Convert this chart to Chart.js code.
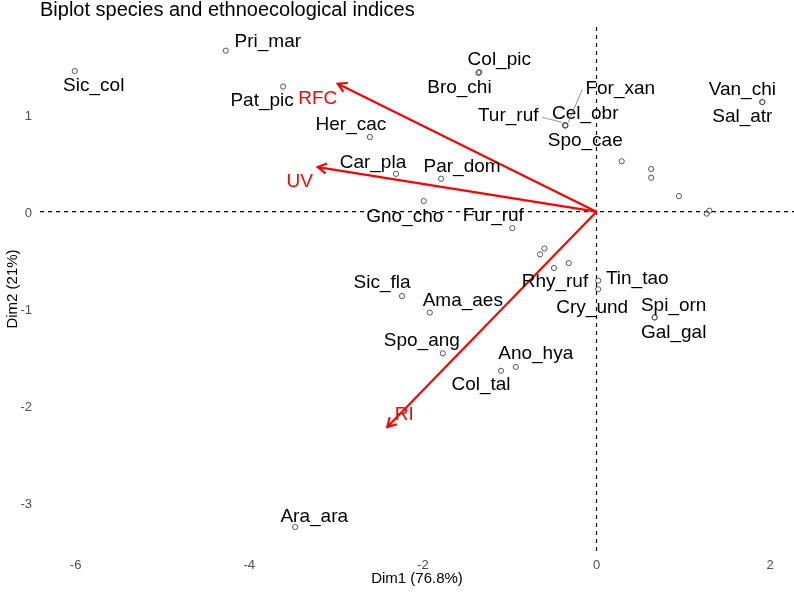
<!DOCTYPE html>
<html>
<head>
<meta charset="utf-8">
<script src="https://cdn.jsdelivr.net/npm/chart.js@4.4.0/dist/chart.umd.min.js"></script>
<style>
    html, body { margin: 0; padding: 0; background: #fff; }
</style>
</head>
<body>
<canvas id="biplot" width="794" height="594"></canvas>
<script>
/* Species scores on the first two dimensions (empty name = label dropped in the original) */
const species = [
    "Sic_col", "Pri_mar", "Pat_pic", "Her_cac", "Car_pla", "Col_pic", "Bro_chi", "Par_dom",
    "Gno_cho", "Fur_ruf", "Cel_obr", "Tur_ruf", "For_xan", "Spo_cae", "Van_chi", "Sal_atr",
    "", "", "", "", "", "", "", "",
    "Rhy_ruf", "", "Tin_tao", "Cry_und", "Spi_orn", "Gal_gal", "Sic_fla", "Ama_aes",
    "Spo_ang", "Ano_hya", "Col_tal", "Ara_ara",
];
const dim1 = [
    -6.01, -4.27, -3.61, -2.61, -2.31, -1.35, -1.36, -1.79,
    -1.99, -0.97, -0.36, -0.36, -0.36, -0.36, 1.91, 1.91,
    0.29, 0.63, 0.63, 0.95, 1.30, 1.27, -0.65, -0.60,
    -0.49, -0.32, 0.02, 0.02, 0.67, 0.67, -2.24, -1.92,
    -1.77, -0.93, -1.10, -3.47,
];
const dim2 = [
    1.45, 1.66, 1.29, 0.77, 0.39, 1.44, 1.43, 0.34,
    0.11, -0.17, 0.89, 0.89, 0.89, 0.89, 1.13, 1.13,
    0.52, 0.44, 0.35, 0.16, 0.01, -0.02, -0.44, -0.38,
    -0.58, -0.53, -0.71, -0.80, -1.09, -1.09, -0.87, -1.04,
    -1.46, -1.60, -1.64, -3.25,
];

/* Ethnoecological index vectors */
const indexNames = ["RFC", "UV", "RI"];
const indexDim1 = [-2.98, -3.21, -2.41];
const indexDim2 = [1.32, 0.46, -2.22];

/* Axis ticks */
const xTickVals = [-6, -4, -2, 0, 2];
const yTickVals = [1, 0, -1, -2, -3];

/* Label placement (pixel offsets from the point, like ggrepel did it) */
const labelShift = {
    Sic_col: [19, 15], Pri_mar: [42, -9], Pat_pic: [-21, 14], Her_cac: [-19, -12],
    Car_pla: [-23, -11], Col_pic: [20, -12], Bro_chi: [-19, 15], Par_dom: [21, -12],
    Gno_cho: [-19, 16], Fur_ruf: [-19, -12], Cel_obr: [20, -12], Tur_ruf: [-57, -10, -23, -8],
    For_xan: [55, -37, 17, -36], Spo_cae: [20, 15], Van_chi: [-20, -12], Sal_atr: [-20, 15],
    Rhy_ruf: [1, 14], Tin_tao: [39, -2], Cry_und: [-6, 18], Spi_orn: [19, -12],
    Gal_gal: [19, 15], Sic_fla: [-20, -13], Ama_aes: [33, -12], Spo_ang: [-21, -13],
    Ano_hya: [20, -13], Col_tal: [-20, 14], Ara_ara: [19, -10],
};
const indexShift = { RFC: [-20, 15], UV: [-18, 15], RI: [17, -12] };

const FONT = "'Liberation Sans', Arial, sans-serif";
const RED = "#FF0000";

const biplotDecor = {
    id: "biplotDecor",
    beforeDatasetsDraw(chart) {
        /* Dashed reference lines through the origin */
        const { ctx, chartArea: a, scales: { x, y } } = chart;
        const x0 = x.getPixelForValue(0), y0 = y.getPixelForValue(0);
        ctx.save();
        ctx.strokeStyle = "#000";
        ctx.lineWidth = 1.2;
        ctx.setLineDash([4, 4]);
        ctx.beginPath();
        ctx.moveTo(a.left, y0); ctx.lineTo(a.right, y0);
        ctx.moveTo(x0, a.top); ctx.lineTo(x0, a.bottom);
        ctx.stroke();
        ctx.restore();
    },
    afterDatasetsDraw(chart) {
        const { ctx, scales: { x, y } } = chart;
        ctx.save();

        /* Arrowheads on the index vectors */
        ctx.strokeStyle = RED;
        ctx.lineWidth = 2.2;
        indexNames.forEach((name, i) => {
            const pts = chart.getDatasetMeta(i + 1).data;
            const tx = pts[1].x, ty = pts[1].y;
            const ang = Math.atan2(ty - pts[0].y, tx - pts[0].x);
            ctx.beginPath();
            ctx.moveTo(tx + 10 * Math.cos(ang + Math.PI * 5 / 6), ty + 10 * Math.sin(ang + Math.PI * 5 / 6));
            ctx.lineTo(tx, ty);
            ctx.lineTo(tx + 10 * Math.cos(ang - Math.PI * 5 / 6), ty + 10 * Math.sin(ang - Math.PI * 5 / 6));
            ctx.stroke();
        });

        /* Species labels */
        ctx.font = `19px ${FONT}`;
        ctx.textAlign = "center";
        ctx.textBaseline = "middle";
        species.forEach((name, i) => {
            const s = labelShift[name];
            if (!name || !s) return;
            const px = x.getPixelForValue(dim1[i]), py = y.getPixelForValue(dim2[i]);
            if (s.length > 2) {
                ctx.strokeStyle = "#777";
                ctx.lineWidth = 0.8;
                ctx.beginPath();
                ctx.moveTo(px + s[2], py + s[3]);
                ctx.lineTo(px + (s[2] > 0 ? 3 : -3), py + (s[3] > 0 ? 3 : -3));
                ctx.stroke();
            }
            ctx.fillStyle = "#000";
            ctx.fillText(name, px + s[0], py + s[1]);
        });

        /* Index labels */
        ctx.fillStyle = RED;
        indexNames.forEach((name, i) => {
            const s = indexShift[name];
            ctx.fillText(name, x.getPixelForValue(indexDim1[i]) + s[0], y.getPixelForValue(indexDim2[i]) + s[1]);
        });
        ctx.restore();
    },
    afterDraw(chart) {
        const { ctx, chartArea: a } = chart;
        ctx.save();
        ctx.font = `20px ${FONT}`;
        ctx.fillStyle = "#000";
        ctx.textAlign = "left";
        ctx.textBaseline = "alphabetic";
        ctx.fillText("Biplot species and ethnoecological indices", a.left, 16);
        ctx.restore();
    },
};

const datasets = [{
    type: "scatter",
    data: species.map((s, i) => ({ x: dim1[i], y: dim2[i] })),
    pointRadius: 2.6,
    pointBorderWidth: 1,
    pointBorderColor: "#555",
    pointBackgroundColor: "rgba(0,0,0,0)",
}];
indexNames.forEach((name, i) => {
    datasets.push({
        type: "line",
        data: [{ x: 0, y: 0 }, { x: indexDim1[i], y: indexDim2[i] }],
        borderColor: RED,
        borderWidth: 2.2,
        pointRadius: 0,
    });
});

new Chart(document.getElementById("biplot"), {
    type: "scatter",
    data: { datasets },
    options: {
        responsive: false,
        animation: false,
        layout: { autoPadding: false, padding: { top: 27, right: 0, bottom: 0, left: 0 } },
        plugins: {
            legend: { display: false },
            tooltip: { enabled: false },
        },
        scales: {
            x: {
                type: "linear",
                min: -6.41,
                max: 2.275,
                grid: { display: false, drawTicks: false },
                border: { display: false },
                afterBuildTicks: (scale) => { scale.ticks = xTickVals.map(v => ({ value: v })); },
                afterFit: (scale) => {
                    scale.height = 43;
                    scale.paddingLeft = 0;
                    scale.paddingRight = 0;
                },
                ticks: { padding: 7, color: "#4D4D4D", font: { family: FONT, size: 13 } },
                title: {
                    display: true,
                    text: "Dim1 (76.8%)",
                    color: "#000",
                    font: { family: FONT, size: 15 },
                    padding: { top: 0, bottom: 6 },
                },
            },
            y: {
                type: "linear",
                min: -3.498,
                max: 1.904,
                grid: { display: false, drawTicks: false },
                border: { display: false },
                afterBuildTicks: (scale) => { scale.ticks = yTickVals.map(v => ({ value: v })); },
                afterFit: (scale) => {
                    scale.width = 40;
                    scale.paddingTop = 0;
                    scale.paddingBottom = 0;
                },
                ticks: { padding: 8, labelOffset: 2, color: "#4D4D4D", font: { family: FONT, size: 13 } },
                title: {
                    display: true,
                    text: "Dim2 (21%)",
                    color: "#000",
                    font: { family: FONT, size: 15 },
                    padding: { top: 4, bottom: 0 },
                },
            },
        },
    },
    plugins: [biplotDecor],
});
</script>
</body>
</html>
